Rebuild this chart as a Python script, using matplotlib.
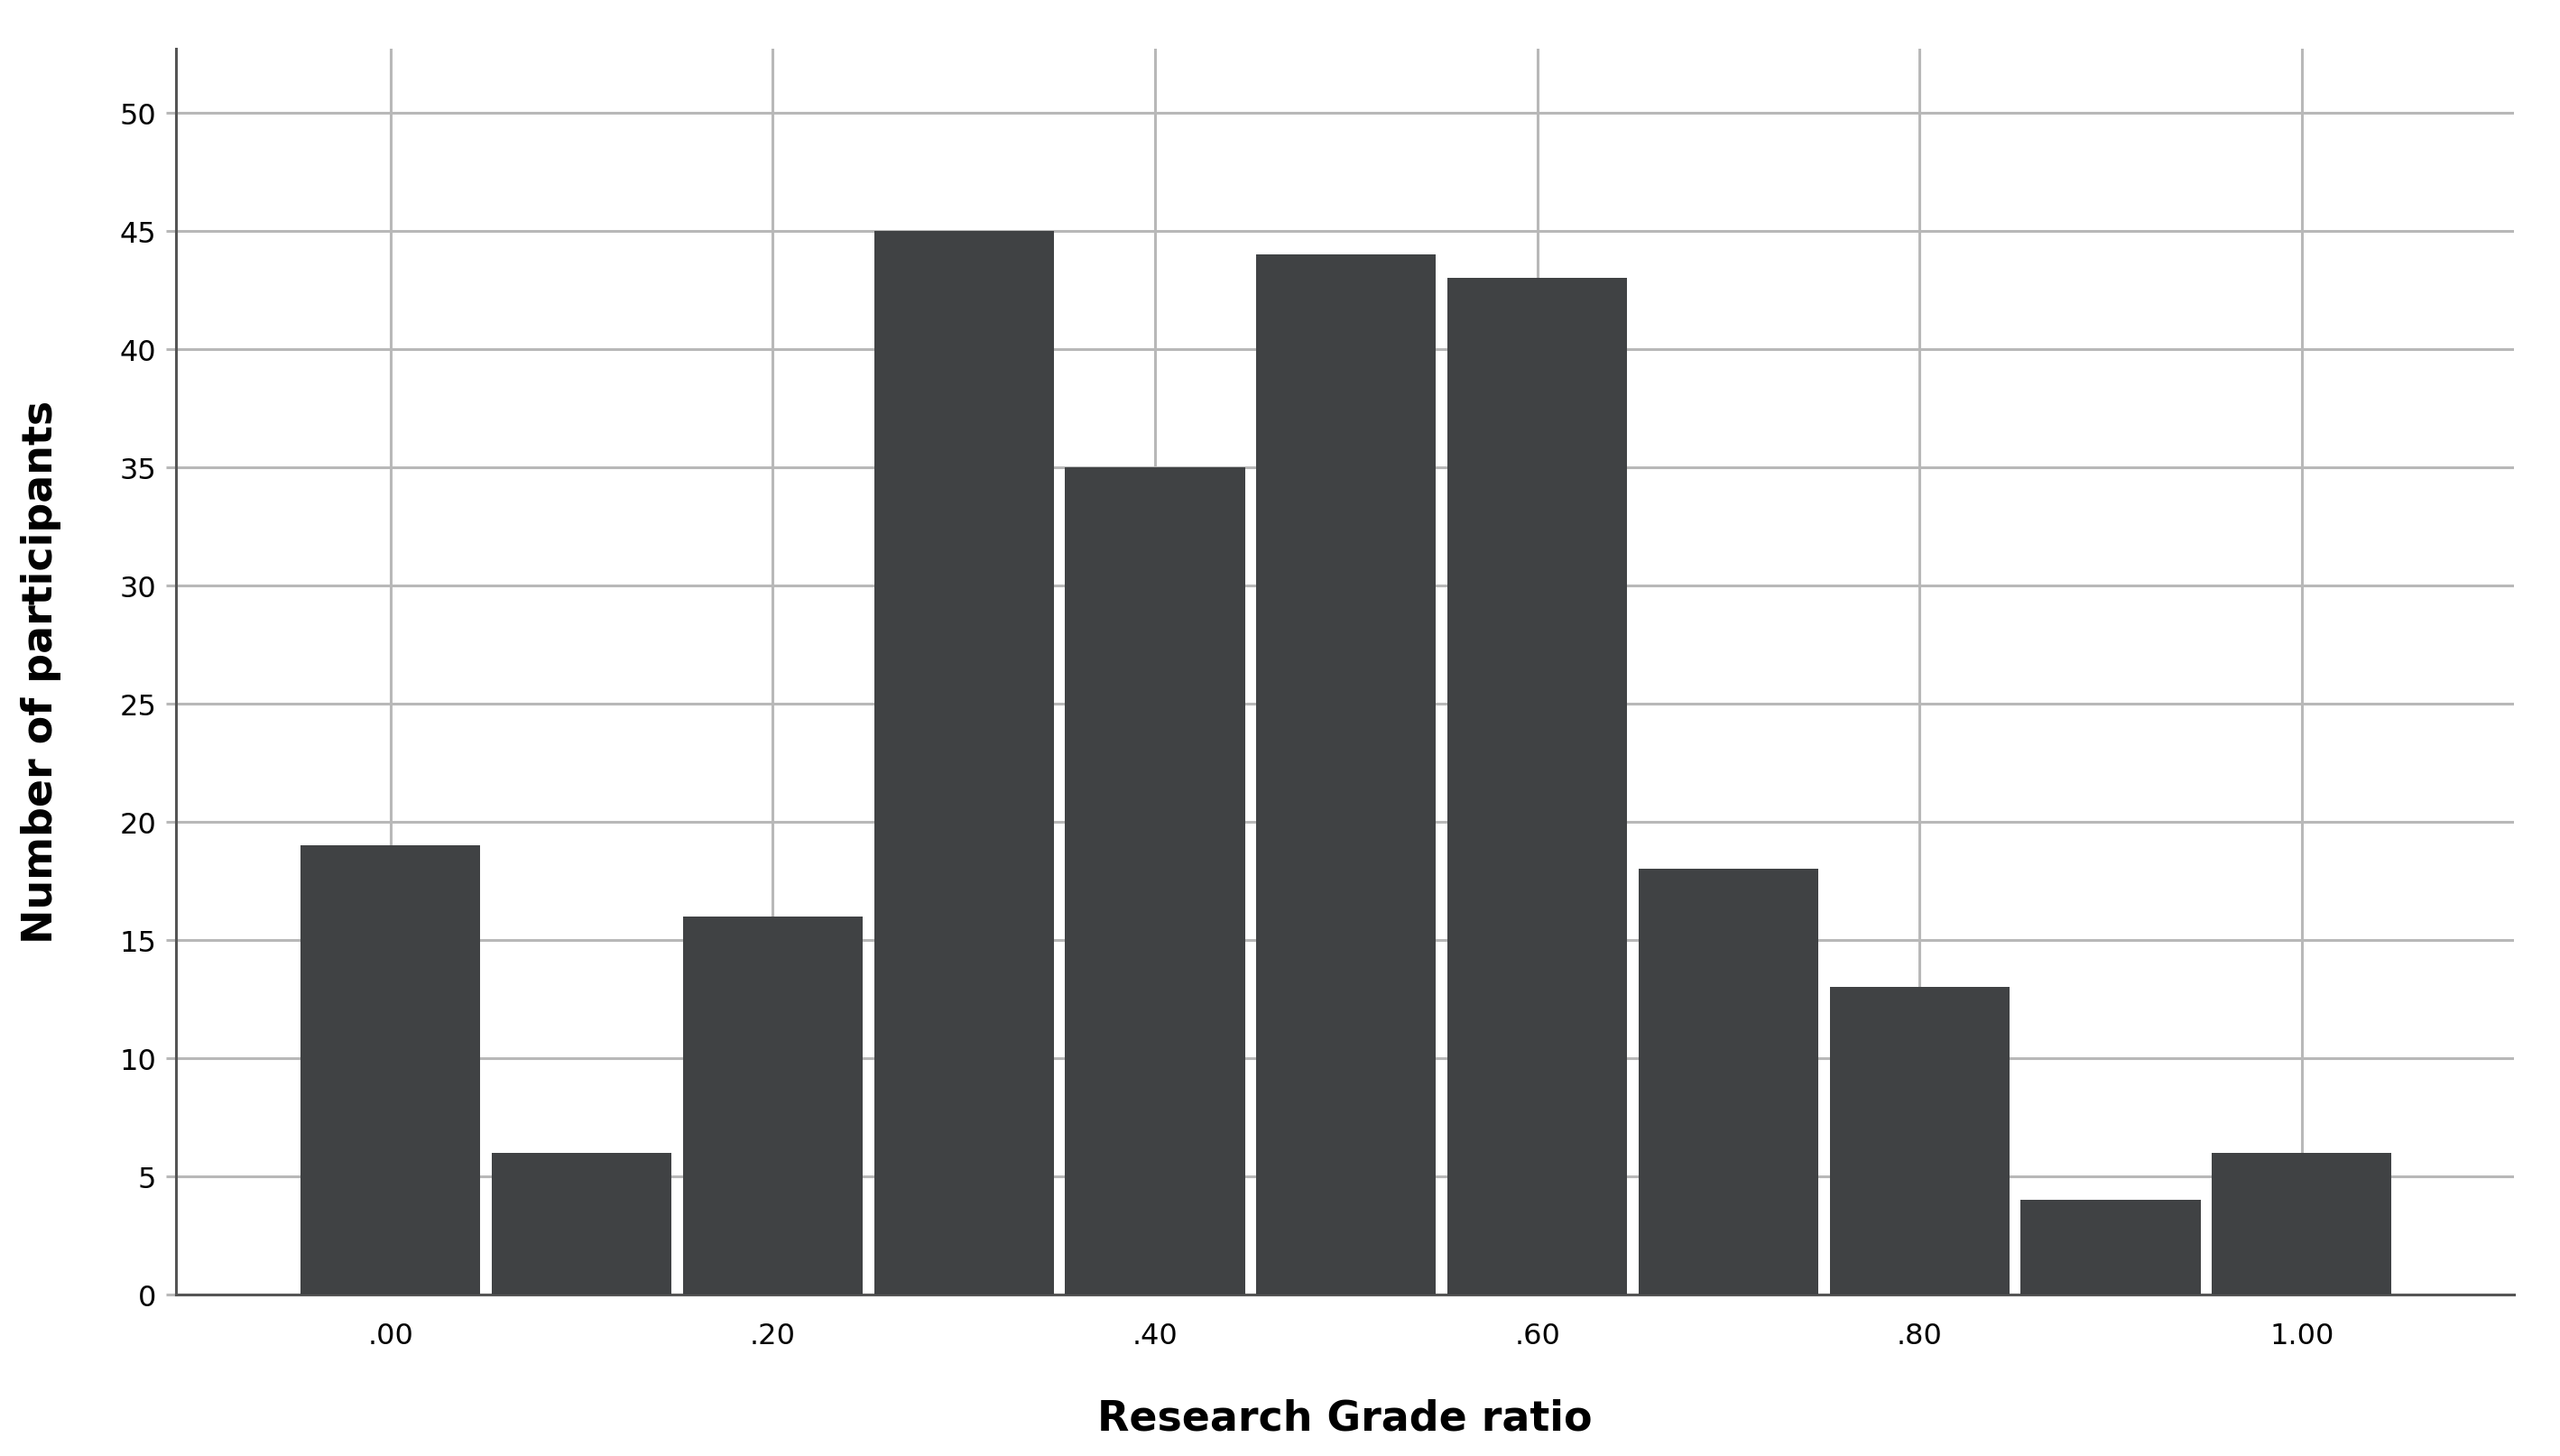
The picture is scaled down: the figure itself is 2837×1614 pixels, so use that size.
import numpy as np
import matplotlib
matplotlib.use("Agg")
from matplotlib import pyplot as plt

# histogram bins (centres) and counts
bin_centres = [0.0, 0.1, 0.2, 0.3, 0.4, 0.5, 0.6, 0.7, 0.8, 0.9, 1.0]
counts = [19, 6, 16, 45, 35, 44, 43, 18, 13, 4, 6]
x_ticks = [0.0, 0.2, 0.4, 0.6, 0.8, 1.0]
x_tick_labels = [".00", ".20", ".40", ".60", ".80", "1.00"]
y_ticks = [0, 5, 10, 15, 20, 25, 30, 35, 40, 45, 50]

plt.rcParams['font.family'] = ['DejaVu Sans']

fig = plt.figure(figsize=(28.37, 16.15), dpi=100)
ax = fig.add_axes([0.0689, 0.111, 0.9131, 0.855])

ax.bar(bin_centres, counts, width=0.094, color="#404244", zorder=3)

ax.set_xlim(-0.112, 1.111)
ax.set_ylim(0, 52.7)
ax.set_xticks(x_ticks)
ax.set_xticklabels(x_tick_labels)
ax.set_yticks(y_ticks)

ax.grid(True, color="#b8b8b8", linewidth=2.2, zorder=0)
ax.set_axisbelow(True)

for s in ["top", "right"]:
    ax.spines[s].set_visible(False)
for s in ["left", "bottom"]:
    ax.spines[s].set_color("#555555")
    ax.spines[s].set_linewidth(2.2)

ax.tick_params(axis="y", length=8, width=2.2, color="#b8b8b8", labelsize=23, pad=8)
ax.tick_params(axis="x", length=0, labelsize=23, pad=22)

ax.set_xlabel("Research Grade ratio", fontsize=33, fontweight="bold", labelpad=38)
ax.set_ylabel("Number of participants", fontsize=33, fontweight="bold", labelpad=46)

fig.savefig("out.png", dpi=100, facecolor="white")
